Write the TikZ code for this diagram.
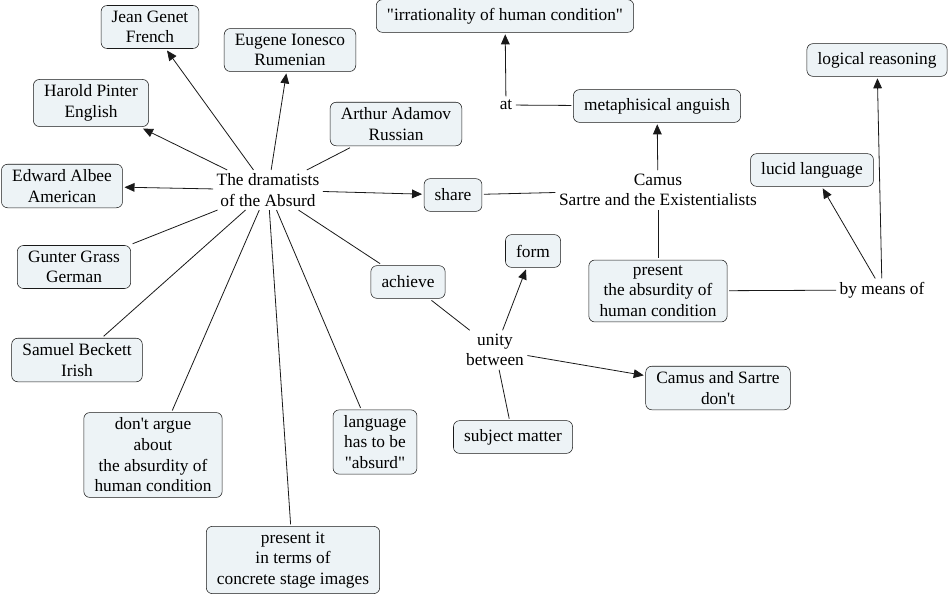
\documentclass[tikz,border=0pt]{standalone}
\usepackage{fontspec}
\setmainfont{Liberation Serif}[Ligatures=TeXOff]
\usetikzlibrary{arrows.meta}
\tikzset{>={Triangle[length=7.5pt,width=6.5pt]}}
\definecolor{cmapfill}{RGB}{237,243,246}
\definecolor{cmapline}{RGB}{25,25,25}

\begin{document}
\begin{tikzpicture}[x=0.75pt,y=-0.75pt,
  concept/.style={draw=cmapline,fill=cmapfill,rounded corners=4.5pt,align=center,
    inner xsep=8pt,inner ysep=4pt,minimum height=24.5pt,outer sep=1.5pt,
    font=\fontsize{13}{15.5}\selectfont},
  phrase/.style={align=center,inner sep=2.5pt,font=\fontsize{13}{15.5}\selectfont},
  link/.style={draw=cmapline,line width=0.6pt}]
\useasboundingbox (0,0) rectangle (952,600);
% the dramatists and their nationalities
\node[phrase] (absurd) at (268,190) {The dramatists\\of the Absurd};
\node[concept] (genet) at (150,27) {Jean Genet\\French};
\node[concept] (ionesco) at (290,50) {Eugene Ionesco\\Rumenian};
\node[concept] (pinter) at (91,103) {Harold Pinter\\English};
\node[concept] (adamov) at (396,124) {Arthur Adamov\\Russian};
\node[concept] (albee) at (62,186) {Edward Albee\\American};
\node[concept] (grass) at (74,267) {Gunter Grass\\German};
\node[concept] (beckett) at (77,360) {Samuel Beckett\\Irish};
\node[concept] (argue) at (153,455) {don't argue\\about\\the absurdity of\\human condition};
\node[concept] (images) at (293,560) {present it\\in terms of\\concrete stage images};
\node[concept] (language) at (375,442) {language\\has to be\\"absurd"};
% what they share with the existentialists
\node[concept] (share) at (453,195) {share};
\node[phrase] (camus) at (658,190) {Camus\\Sartre and the Existentialists};
\node[concept] (anguish) at (657,106) {metaphisical anguish};
\node[phrase] (at) at (506,105) {at};
\node[concept] (irrational) at (505,16) {"irrationality of human condition"};
\node[concept] (present) at (658,291) {present\\the absurdity of\\human condition};
\node[phrase] (means) at (882,290) {by means of};
\node[concept] (lucid) at (812,170) {lucid language};
\node[concept] (logical) at (877,60) {logical reasoning};
% unity of form and subject matter
\node[concept] (achieve) at (408,282) {achieve};
\node[phrase] (unity) at (495,350) {unity\\between};
\node[concept] (form) at (533,251) {form};
\node[concept] (subject) at (513,437) {subject matter};
\node[concept] (dont) at (718,388) {Camus and Sartre\\don't};

\draw[link,->] (absurd) -- (genet);
\draw[link,->] (absurd) -- (ionesco);
\draw[link,->] (absurd) -- (pinter);
\draw[link] (absurd) -- (adamov);
\draw[link,->] (absurd) -- (albee);
\draw[link] (absurd) -- (grass);
\draw[link] (absurd) -- (beckett);
\draw[link] (absurd) -- (argue);
\draw[link] (absurd) -- (images);
\draw[link] (absurd) -- (language);
\draw[link] (absurd) -- (achieve);
\draw[link,->] (absurd) -- (share);
\draw[link] (share) -- (camus);
\draw[link,->] (camus) -- (anguish);
\draw[link] (anguish) -- (at);
\draw[link,->] (at) -- (irrational);
\draw[link] (camus) -- (present);
\draw[link] (present) -- (means);
\draw[link,->] (means) -- (lucid);
\draw[link,->] (means) -- (logical);
\draw[link] (achieve) -- (unity);
\draw[link,->] (unity) -- (form);
\draw[link,->] (unity) -- (dont);
\draw[link] (subject) -- (unity);
\end{tikzpicture}
\end{document}
